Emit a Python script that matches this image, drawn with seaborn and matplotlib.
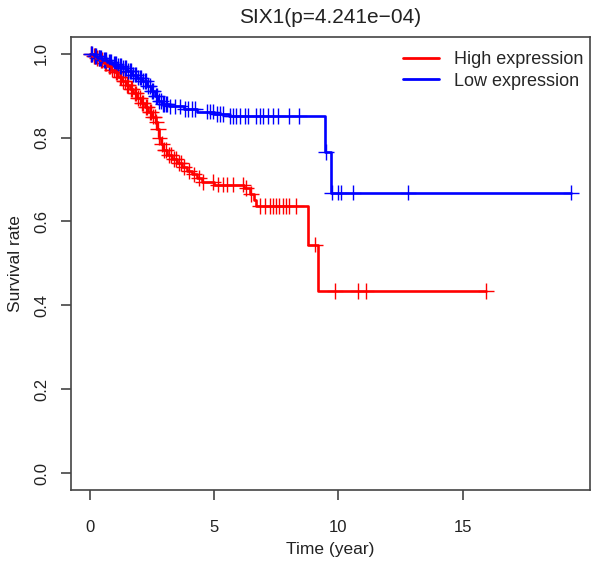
import matplotlib
matplotlib.use("Agg")
import matplotlib.pyplot as plt
import numpy as np
import pandas as pd
import seaborn as sns

# Kaplan-Meier steps: event times and survival after each event
low_times = [0.0, 0.15, 0.3, 0.5, 0.7, 0.9, 1.1, 1.3, 1.5, 1.7, 1.9, 2.1, 2.3,
             2.45, 2.6, 2.75, 2.9, 3.2, 3.8, 4.3, 5.0, 5.6, 9.45, 9.7]
low_surv = [1.0, 0.995, 0.99, 0.985, 0.98, 0.975, 0.97, 0.965, 0.958, 0.95, 0.943,
            0.935, 0.922, 0.91, 0.898, 0.888, 0.88, 0.874, 0.868, 0.862, 0.857,
            0.852, 0.766, 0.669]
low_censor = [0.05, 0.1, 0.2, 0.25, 0.35, 0.4, 0.45, 0.55, 0.6, 0.65, 0.75, 0.8,
              0.85, 0.95, 1.0, 1.05, 1.15, 1.2, 1.25, 1.35, 1.4, 1.45, 1.55, 1.6,
              1.65, 1.75, 1.8, 1.85, 1.95, 2.0, 2.05, 2.15, 2.2, 2.25, 2.35, 2.4,
              2.5, 2.55, 2.65, 2.7, 2.8, 2.85, 2.95, 3.0, 3.05, 3.1, 3.23, 3.43,
              3.63, 3.83, 3.96, 4.1, 4.23, 4.7, 4.83, 4.96, 5.1, 5.23, 5.36, 5.63,
              5.77, 5.9, 6.03, 6.23, 6.37, 6.7, 6.83, 6.96, 7.16, 7.36, 7.56, 8.03,
              8.43, 9.5, 9.73, 9.99, 10.1, 10.6, 12.8, 19.35]

high_times = [0.0, 0.1, 0.25, 0.4, 0.55, 0.7, 0.85, 1.0, 1.15, 1.3, 1.45, 1.6,
              1.75, 1.9, 2.05, 2.2, 2.35, 2.5, 2.65, 2.72, 2.78, 2.85, 2.95, 3.1,
              3.3, 3.5, 3.7, 3.9, 4.1, 4.3, 4.5, 5.0, 6.2, 6.45, 6.6, 6.7, 8.76, 9.19]
high_surv = [1.0, 0.995, 0.99, 0.985, 0.978, 0.97, 0.962, 0.955, 0.945, 0.935,
             0.925, 0.915, 0.905, 0.895, 0.883, 0.872, 0.86, 0.85, 0.838, 0.82,
             0.80, 0.785, 0.77, 0.758, 0.748, 0.74, 0.73, 0.72, 0.712, 0.703,
             0.695, 0.688, 0.68, 0.665, 0.65, 0.637, 0.545, 0.434]
high_censor = [0.05, 0.15, 0.2, 0.3, 0.35, 0.45, 0.5, 0.6, 0.65, 0.75, 0.8, 0.9,
               0.95, 1.05, 1.1, 1.2, 1.25, 1.35, 1.4, 1.5, 1.55, 1.65, 1.7, 1.8,
               1.85, 1.95, 2.0, 2.1, 2.15, 2.25, 2.3, 2.4, 2.45, 2.55, 2.6, 2.68,
               2.75, 2.8, 2.9, 3.0, 3.05, 3.2, 3.25, 3.4, 3.45, 3.6, 3.65, 3.8,
               4.0, 4.2, 4.4, 4.55, 4.95, 5.15, 5.35, 5.5, 5.75, 6.15, 6.3, 6.5,
               6.83, 7.03, 7.23, 7.36, 7.5, 7.63, 7.76, 7.9, 8.03, 8.3, 9.07, 9.87,
               10.78, 11.13, 15.95]

groups = ["High expression", "Low expression"]
colors = {"High expression": "#ff0000", "Low expression": "#0000ff"}


def km_frame(times, surv, censor, label):
    t = list(times) + [max(censor)]
    s = list(surv) + [surv[-1]]
    curve = pd.DataFrame({"time": t, "surv": s, "group": label})
    idx = np.searchsorted(times, censor, side="right") - 1
    marks = pd.DataFrame({"time": censor, "surv": np.array(surv)[idx], "group": label})
    return curve, marks


hi_curve, hi_marks = km_frame(high_times, high_surv, high_censor, groups[0])
lo_curve, lo_marks = km_frame(low_times, low_surv, low_censor, groups[1])
curves = pd.concat([hi_curve, lo_curve])
marks = pd.concat([hi_marks, lo_marks])

sns.set_style("white")
plt.rcParams["font.family"] = ["Liberation Sans", "DejaVu Sans"]

fig = plt.figure(figsize=(5.97, 5.62), dpi=100)
ax = fig.add_axes([0.1184, 0.128, 0.8696, 0.8065])

sns.lineplot(data=curves, x="time", y="surv", hue="group", palette=colors,
             drawstyle="steps-post", estimator=None, sort=False, linewidth=1.9,
             ax=ax)
sns.scatterplot(data=marks, x="time", y="surv", hue="group", palette=colors,
                marker="+", s=130, linewidth=1.0, legend=False, ax=ax)

ax.set_xlim(-0.04 * 19.35, 19.35 * 1.04)
ax.set_ylim(-0.04, 1.04)
ax.set_xticks([0, 5, 10, 15])
ax.set_yticks([0.0, 0.2, 0.4, 0.6, 0.8, 1.0])
ax.set_yticklabels(["0.0", "0.2", "0.4", "0.6", "0.8", "1.0"], rotation=90, va="center")
ax.tick_params(axis="both", direction="out", length=7.5, width=1.2, color="#444444",
               labelsize=12, labelcolor="#222222")
ax.tick_params(axis="x", pad=14)
ax.tick_params(axis="y", pad=8)
ax.tick_params(axis="both", bottom=True, left=True)
for sp in ax.spines.values():
    sp.set_color("#444444")
    sp.set_linewidth(1.2)

ax.set_xlabel("Time (year)", fontsize=12.5, color="#222222", labelpad=5)
ax.set_ylabel("Survival rate", fontsize=12.5, color="#222222", labelpad=8)
ax.set_title("SIX1(p=4.241e\u221204)", fontsize=15, color="#222222", pad=10)

leg = ax.legend(loc="upper right", bbox_to_anchor=(1.015, 1.0), frameon=False,
                fontsize=13, handlelength=2.0, handletextpad=0.8,
                borderaxespad=0.4, labelspacing=0.25, title=None)
for line in leg.get_lines():
    line.set_linewidth(2)

fig.savefig("out.png", dpi=100)
